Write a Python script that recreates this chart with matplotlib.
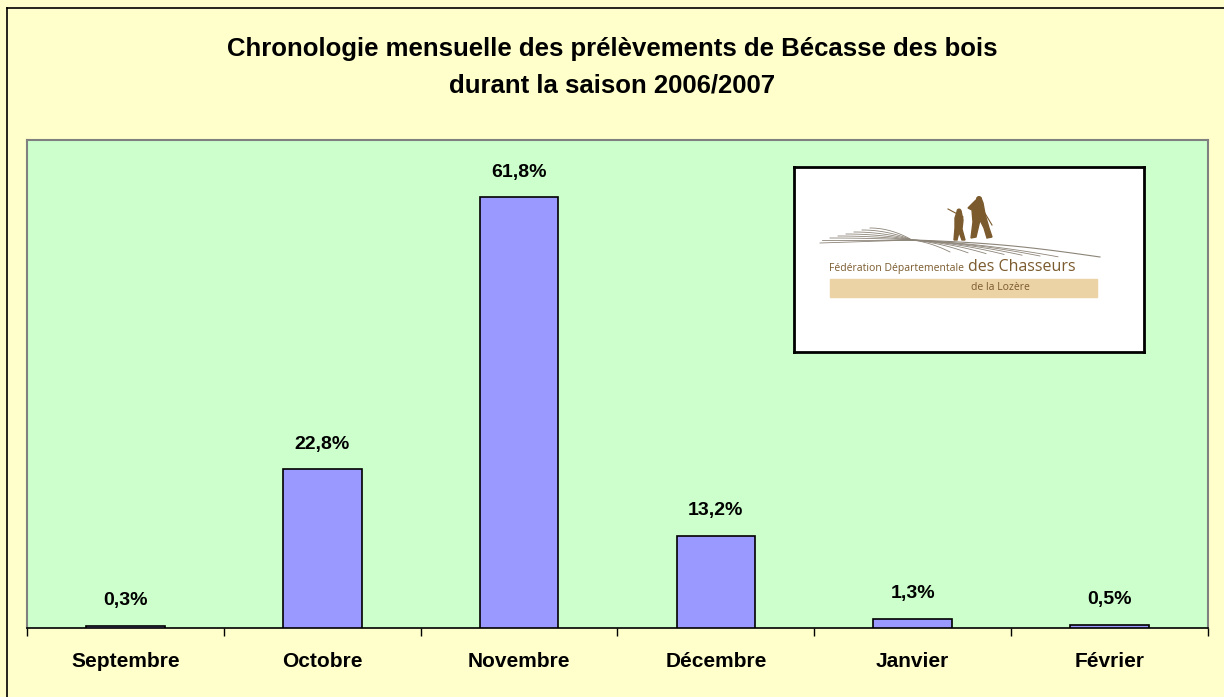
import matplotlib.pyplot as plt
import numpy as np
from matplotlib.patches import Rectangle, Polygon

plt.rcParams['font.family'] = ['Liberation Sans', 'DejaVu Sans']

months = ["Septembre", "Octobre", "Novembre", "Décembre", "Janvier", "Février"]
shares = [0.3, 22.8, 61.8, 13.2, 1.3, 0.5]
labels = ["0,3%", "22,8%", "61,8%", "13,2%", "1,3%", "0,5%"]

title = "Chronologie mensuelle des prélèvements de Bécasse des bois\ndurant la saison 2006/2007"

W, H = 1224, 697
fig = plt.figure(figsize=(W / 100, H / 100), dpi=100, facecolor="#FFFFCC")

# outer frame (only top and left edges visible in the crop)
fig.add_artist(plt.Line2D([7 / W, 7 / W], [0, 1 - 8 / H], color="black", lw=1.2))
fig.add_artist(plt.Line2D([7 / W, 1], [1 - 8 / H, 1 - 8 / H], color="black", lw=1.2))

ax = fig.add_axes([27 / W, 1 - 628 / H, (1208 - 27) / W, (628 - 140) / H])
ax.set_facecolor("#CCFFCC")

x = np.arange(len(months))
ax.bar(x, shares, width=0.4, color="#9999FF", edgecolor="black", linewidth=1.2, zorder=3)
for xi, v, lab in zip(x, shares, labels):
    ax.annotate(lab, (xi, v), xytext=(0, 18), textcoords="offset points",
                ha="center", va="center", fontsize=14, fontweight="bold")

ax.set_xlim(-0.5, len(months) - 0.5)
ax.set_ylim(0, 70)
ax.set_yticks([])
ax.set_xticks(x)
ax.set_xticklabels(months, fontsize=15, fontweight="bold")
ax.set_xticks(np.arange(len(months) + 1) - 0.5, minor=True)
ax.tick_params(axis="x", which="major", length=0, pad=17)
ax.tick_params(axis="x", which="minor", length=6, width=1, color="black", direction="out")

for side in ("top", "left", "right"):
    ax.spines[side].set_color("#808080")
    ax.spines[side].set_linewidth(1.5)
ax.spines["bottom"].set_color("black")
ax.spines["bottom"].set_linewidth(1.2)

fig.text(0.5, 1 - 67 / H, title, ha="center", va="center", fontsize=18.5,
         fontweight="bold", linespacing=1.65)

# logo box of the federation
lx0, lx1, ly0, ly1 = 794, 1144, 167, 352
lg = fig.add_axes([lx0 / W, 1 - ly1 / H, (lx1 - lx0) / W, (ly1 - ly0) / H])
lg.set_xlim(lx0, lx1)
lg.set_ylim(ly1, ly0)
lg.set_xticks([])
lg.set_yticks([])
lg.set_facecolor("white")
for s in lg.spines.values():
    s.set_linewidth(2)
    s.set_color("black")

brown = "#7B5B2E"
grey = "#8C8478"
# swoosh lines
t = np.linspace(0, 1, 50)
for k in range(7):
    xl = 870 - k * 8 + t * (912 - 870 + k * 8)
    yl = 228 + k * 2 + (240 - 228 - k * 2) * t ** 2
    lg.plot(xl, yl, color=grey, lw=0.6)
    xr = 912 + t * (950 + k * 18 - 912)
    yr = 240 + t * (252 + k * 0.8 - 240) * (0.4 + 0.6 * t)
    lg.plot(xr, yr, color=grey, lw=0.6)
lg.plot(915 + t * 185, 240 - 3 * np.sin(t * np.pi) + t * 17, color=grey, lw=0.8)
lg.plot(820 + t * 92, 243 - t * 3, color=grey, lw=0.6)

# walking figures
man = [(976, 200), (981, 198), (983, 203), (985, 214), (989, 228), (992, 237),
       (987, 238), (984, 228), (980, 220), (976, 237), (971, 238), (973, 222),
       (972, 210), (968, 208)]
lg.add_patch(Polygon(man, closed=True, color=brown))
lg.add_patch(plt.Circle((979, 199), 2.3, color=brown))
child = [(957, 212), (961, 211), (963, 220), (962, 229), (965, 240), (962, 240),
         (959, 232), (957, 240), (954, 240), (955, 228), (955, 218)]
lg.add_patch(Polygon(child, closed=True, color=brown))
lg.add_patch(plt.Circle((959, 211), 1.8, color=brown))
lg.plot([948, 963], [209, 217], color=brown, lw=0.8)
lg.plot([983, 992], [210, 225], color=brown, lw=0.8)

lg.text(829, 269, "Fédération Départementale", color=brown, fontsize=7.5,
        ha="left", va="center", family=["Open Sans", "DejaVu Sans"])
lg.text(968, 267, "des Chasseurs", color=brown, fontsize=11.5,
        ha="left", va="center", family=["Open Sans", "DejaVu Sans"])
lg.add_patch(Rectangle((830, 279), 267, 18, color="#EBD3A6"))
lg.text(1000, 288, "de la Lozère", color=brown, fontsize=7.5,
        ha="center", va="center", family=["Open Sans", "DejaVu Sans"])

fig.savefig("out.png", dpi=100, facecolor=fig.get_facecolor())
